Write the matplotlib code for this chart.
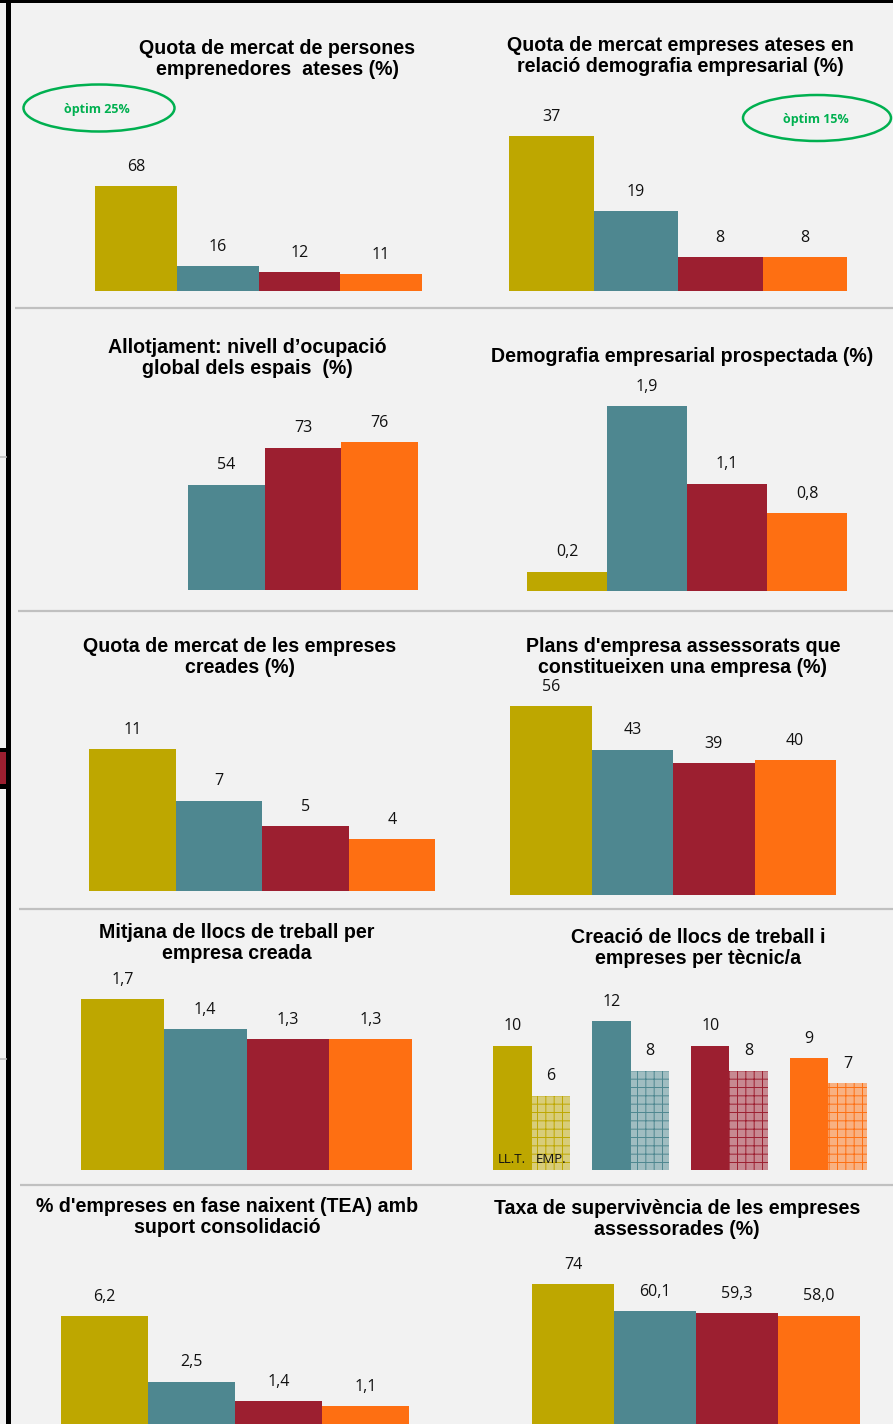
import matplotlib
matplotlib.use("Agg")
import matplotlib.pyplot as plt
from matplotlib.patches import Ellipse, Rectangle
from matplotlib.colors import to_rgb

# ---------------- DATA ----------------
title_1 = "Quota de mercat de persones\nemprenedores  ateses (%)"
values_1 = [68, 16, 12, 11]
labels_1 = ["68", "16", "12", "11"]

title_2 = "Quota de mercat empreses ateses en\nrelació demografia empresarial (%)"
values_2 = [37, 19, 8, 8]
labels_2 = ["37", "19", "8", "8"]

title_3 = "Allotjament: nivell d’ocupació\nglobal dels espais  (%)"
values_3 = [54, 73, 76]
labels_3 = ["54", "73", "76"]

title_4 = "Demografia empresarial prospectada (%)"
values_4 = [0.2, 1.9, 1.1, 0.8]
labels_4 = ["0,2", "1,9", "1,1", "0,8"]

title_5 = "Quota de mercat de les empreses\ncreades (%)"
values_5 = [11, 7, 5, 4]
labels_5 = ["11", "7", "5", "4"]

title_6 = "Plans d'empresa assessorats que\nconstitueixen una empresa (%)"
values_6 = [56, 43, 39, 40]
labels_6 = ["56", "43", "39", "40"]

title_7 = "Mitjana de llocs de treball per\nempresa creada"
values_7 = [1.7, 1.4, 1.3, 1.3]
labels_7 = ["1,7", "1,4", "1,3", "1,3"]

title_8 = "Creació de llocs de treball i\nempreses per tècnic/a"
jobs_8 = [10, 12, 10, 9]
firms_8 = [6, 8, 8, 7]
series_names_8 = ["LL.T.", "EMP."]

title_9 = "% d'empreses en fase naixent (TEA) amb\nsuport consolidació"
values_9 = [6.2, 2.5, 1.4, 1.1]
labels_9 = ["6,2", "2,5", "1,4", "1,1"]

title_10 = "Taxa de supervivència de les empreses\nassessorades (%)"
values_10 = [74, 60.1, 59.3, 58.0]
labels_10 = ["74", "60,1", "59,3", "58,0"]

optim_1 = "òptim 25%"
optim_2 = "òptim 15%"

# ---------------- STYLE ----------------
BG = "#f2f2f2"
COLORS = ["#BEA700", "#4E8790", "#9C1F30", "#FE6F12"]
GREEN = "#00B050"
TITLE_FONT = dict(family="Liberation Sans", weight="bold", size=14.1, color="black")
LABEL_FONT = dict(family="Open Sans", size=11.5, color="#111111")

W, H = 893, 1424
fig = plt.figure(figsize=(W / 100, H / 100), dpi=100)
fig.patch.set_facecolor(BG)

# Overlay axes in pixel coordinates for decoration
bg = fig.add_axes([0, 0, 1, 1], zorder=0)
bg.set_xlim(0, W)
bg.set_ylim(H, 0)
bg.axis("off")
bg.set_facecolor(BG)


def px_axes(left, top, right, bottom):
    ax = fig.add_axes([left / W, 1 - bottom / H, (right - left) / W, (bottom - top) / H], zorder=2)
    ax.patch.set_alpha(0)
    ax.axis("off")
    return ax


def label_bars(ax, xs, vals, labels, offset=14.0):
    for x, v, t in zip(xs, vals, labels):
        ax.annotate(t, (x, v), xytext=(0, offset), textcoords="offset points",
                    ha="center", va="center", annotation_clip=False, **LABEL_FONT)


def simple_panel(left, right, top, base, values, labels, colors):
    n = len(values)
    ax = px_axes(left, top, right, base)
    ax.set_xlim(-0.5, n - 0.5)
    ax.set_ylim(0, max(values))
    xs = list(range(n))
    ax.bar(xs, values, width=1.0, color=colors, linewidth=0)
    label_bars(ax, xs, values, labels)
    return ax


def title(xc, yc, text):
    bg.text(xc, yc, text, ha="center", va="center", linespacing=1.17, **TITLE_FONT)


# Panel 1
title(277, 59, title_1)
simple_panel(95, 422, 186, 291, values_1, labels_1, COLORS)
bg.add_patch(Ellipse((99, 108), 151, 47, fill=False, edgecolor=GREEN, lw=1.8))
bg.text(97, 109, optim_1, ha="center", va="center", family="Open Sans",
        weight="bold", size=9, color=GREEN)

# Panel 2
title(680, 56, title_2)
simple_panel(509, 847, 136, 291, values_2, labels_2, COLORS)
bg.add_patch(Ellipse((817, 118), 148, 46, fill=False, edgecolor=GREEN, lw=1.8))
bg.text(816, 120, optim_2, ha="center", va="center", family="Open Sans",
        weight="bold", size=9, color=GREEN)

# Panel 3
title(247, 358, title_3)
simple_panel(188, 418, 442, 590, values_3, labels_3, COLORS[1:])

# Panel 4
title(682, 357, title_4)
simple_panel(527, 847, 406, 591, values_4, labels_4, COLORS)

# Panel 5
title(240, 657, title_5)
simple_panel(89, 435, 749, 891, values_5, labels_5, COLORS)

# Panel 6
title(683, 657, title_6)
simple_panel(510, 836, 706, 895, values_6, labels_6, COLORS)

# Panel 7
title(237, 943, title_7)
simple_panel(81, 412, 999, 1170, values_7, labels_7, COLORS)

# Panel 8 (grouped, hatched second series)
title(698, 948, title_8)
w8 = 0.39
ax8 = px_axes(493, 1021, 867, 1170)
ax8.set_xlim(-w8, len(jobs_8) - 1 + w8)
ax8.set_ylim(0, max(jobs_8 + firms_8))
g = list(range(len(jobs_8)))
x_jobs = [i - w8 / 2 for i in g]
x_firms = [i + w8 / 2 for i in g]
ax8.bar(x_jobs, jobs_8, width=w8, color=COLORS, linewidth=0)
plt.rcParams["hatch.linewidth"] = 0.7
for x, v, c in zip(x_firms, firms_8, COLORS):
    r, gg, b = to_rgb(c)
    br, bgc, bb = to_rgb(BG)
    light = (0.5 * r + 0.5 * br, 0.5 * gg + 0.5 * bgc, 0.5 * b + 0.5 * bb)
    ax8.bar([x], [v], width=w8, color=light, edgecolor=c, hatch="++", linewidth=0)
label_bars(ax8, x_jobs, jobs_8, [str(v) for v in jobs_8])
label_bars(ax8, x_firms, firms_8, [str(v) for v in firms_8])
ax8.annotate(series_names_8[0], (x_jobs[0], 0), xytext=(0, 7.5), textcoords="offset points",
             ha="center", va="center", family="Open Sans", size=9.5, color="#111111")
ax8.annotate(series_names_8[1], (x_firms[0], 0), xytext=(0, 7.5), textcoords="offset points",
             ha="center", va="center", family="Open Sans", size=9.5, color="#111111")

# Panel 9
title(227, 1217, title_9)
simple_panel(61, 409, 1316, 1426, values_9, labels_9, COLORS)

# Panel 10
title(677, 1219, title_10)
simple_panel(532, 860, 1284, 1430, values_10, labels_10, COLORS)

# Separators
for y, x0 in [(308, 15), (611, 18), (909, 19), (1185, 20)]:
    bg.plot([x0, W], [y, y], color="#c0c0c0", lw=1.6, solid_capstyle="butt")

# Frame bits (black borders of the screenshot)
bg.add_patch(Rectangle((0, 0), W, 2.5, color="black", lw=0))
bg.add_patch(Rectangle((6, 0), 5, H, color="black", lw=0))
bg.add_patch(Rectangle((0, 748), 6, 41, color="black", lw=0))
bg.add_patch(Rectangle((0, 752), 5.5, 32, color="#9C1F30", lw=0))
bg.plot([0, 6], [457, 457], color="#c0c0c0", lw=1.2)
bg.plot([0, 6], [1059, 1059], color="#c0c0c0", lw=1.2)

fig.savefig("out.png", dpi=100, facecolor=BG)
